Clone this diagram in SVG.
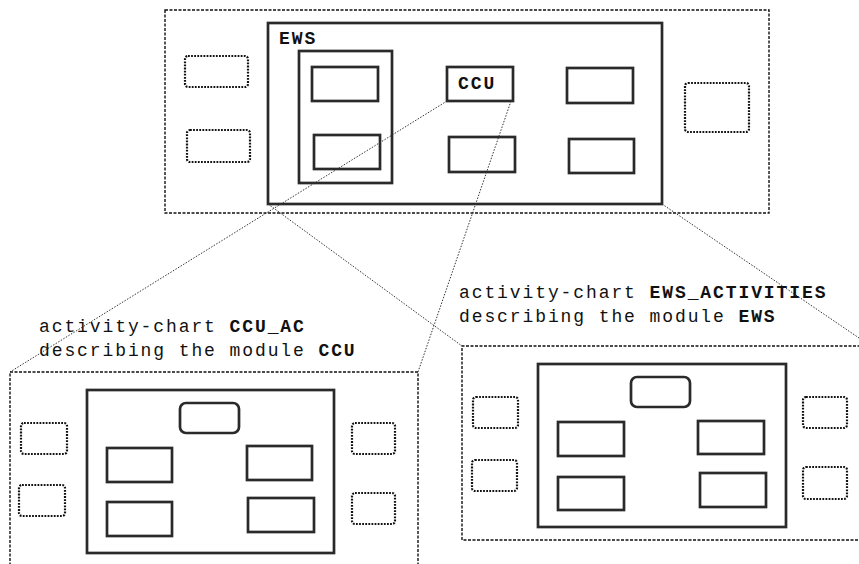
<svg xmlns="http://www.w3.org/2000/svg" width="859" height="564" viewBox="0 0 859 564">
<style>
.bg{fill:#fff}
.frame{fill:none;stroke:#111;stroke-width:1.4;stroke-dasharray:3 1.5}
.solid{fill:#fff;stroke:#2a2a2a;stroke-width:2.7}
.dot{fill:#fff;stroke:#111;stroke-width:2.2;stroke-dasharray:1.8 1.3}
.conn{fill:none;stroke:#333;stroke-width:1;stroke-dasharray:1.5 1.5}
.t{font-family:"Liberation Mono","Courier New",monospace;font-size:18px;letter-spacing:1.9px;fill:#111}
.b{font-weight:bold}
</style>
<rect class="bg" x="0" y="0" width="859" height="564"/>

<g id="top-chart">
  <rect class="frame" x="165" y="10" width="604" height="203"/>
  <rect class="dot" x="185" y="56" width="63" height="31" rx="3"/>
  <rect class="dot" x="187" y="130" width="63" height="32" rx="3"/>
  <rect class="dot" x="685" y="83" width="64" height="49" rx="3"/>
</g>
<g id="EWS">
  <rect class="solid" x="268" y="23" width="394" height="181"/>
  <text class="t b" x="279" y="44">EWS</text>
</g>
<g id="EWS-group">
  <rect class="solid" x="299" y="51" width="93" height="132"/>
  <rect class="solid" x="312" y="67" width="66" height="34"/>
  <rect class="solid" x="314" y="135" width="66" height="34"/>
</g>
<g id="CCU">
  <rect class="solid" x="447" y="67" width="66" height="34"/>
  <text class="t b" x="458" y="89">CCU</text>
</g>
<g id="EWS-modules">
  <rect class="solid" x="449" y="137" width="66" height="35"/>
  <rect class="solid" x="567" y="68" width="66" height="35"/>
  <rect class="solid" x="569" y="139" width="65" height="34"/>
</g>

<g id="connectors">
  <line class="conn" x1="447" y1="101" x2="10" y2="372"/>
  <line class="conn" x1="511" y1="101" x2="418" y2="372"/>
  <line class="conn" x1="268" y1="204" x2="462" y2="346"/>
  <line class="conn" x1="662" y1="204" x2="862" y2="340"/>
</g>

<g id="CCU_AC">
  <text class="t" x="39" y="332">activity-chart <tspan class="b">CCU_AC</tspan></text>
  <text class="t" x="39" y="356">describing the module <tspan class="b">CCU</tspan></text>
  <path class="frame" d="M10,570 V372 H418 V570"/>
  <rect class="solid" x="87" y="390" width="247" height="163"/>
  <rect class="solid" x="180" y="403" width="59" height="30" rx="6"/>
  <rect class="solid" x="107" y="448" width="65" height="34"/>
  <rect class="solid" x="247" y="446" width="65" height="34"/>
  <rect class="solid" x="107" y="502" width="65" height="34"/>
  <rect class="solid" x="248" y="498" width="66" height="34"/>
  <rect class="dot" x="21" y="423" width="46" height="31" rx="3"/>
  <rect class="dot" x="19" y="485" width="46" height="31" rx="3"/>
  <rect class="dot" x="352" y="423" width="43" height="31" rx="3"/>
  <rect class="dot" x="352" y="493" width="43" height="31" rx="3"/>
</g>

<g id="EWS_ACTIVITIES">
  <text class="t" x="459" y="298">activity-chart <tspan class="b">EWS_ACTIVITIES</tspan></text>
  <text class="t" x="459" y="322">describing the module <tspan class="b">EWS</tspan></text>
  <path class="frame" d="M865,346 H462 V540 H865"/>
  <rect class="solid" x="538" y="364" width="248" height="163"/>
  <rect class="solid" x="631" y="377" width="59" height="30" rx="6"/>
  <rect class="solid" x="558" y="422" width="66" height="34"/>
  <rect class="solid" x="698" y="421" width="66" height="33"/>
  <rect class="solid" x="558" y="477" width="66" height="33"/>
  <rect class="solid" x="700" y="473" width="66" height="34"/>
  <rect class="dot" x="473" y="397" width="45" height="31" rx="3"/>
  <rect class="dot" x="472" y="460" width="45" height="31" rx="3"/>
  <rect class="dot" x="803" y="397" width="44" height="31" rx="3"/>
  <rect class="dot" x="803" y="467" width="44" height="32" rx="3"/>
</g>
</svg>
